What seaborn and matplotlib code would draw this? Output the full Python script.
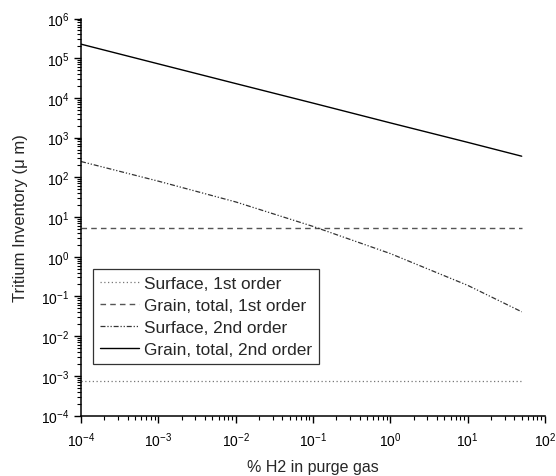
import numpy as np
import pandas as pd
import matplotlib
matplotlib.use("Agg")
import matplotlib.pyplot as plt
import seaborn as sns
from matplotlib.ticker import LogLocator, NullFormatter

# % H2 in purge gas
h2_pct = [1e-4, 1e-3, 1e-2, 1e-1, 1.0, 10.0, 50.0]

# Tritium inventory for each model
surface_1st = [7.2e-4, 7.2e-4, 7.2e-4, 7.2e-4, 7.2e-4, 7.2e-4, 7.2e-4]
grain_1st = [5.3, 5.3, 5.3, 5.3, 5.3, 5.3, 5.3]
surface_2nd = [250.0, 80.0, 24.0, 5.8, 1.2, 0.19, 0.041]
grain_2nd = [2.26e5, 7.2e4, 2.3e4, 7.4e3, 2.35e3, 7.6e2, 3.4e2]

series_labels = [
    "Surface, 1st order",
    "Grain, total, 1st order",
    "Surface, 2nd order",
    "Grain, total, 2nd order",
]
series_values = [surface_1st, grain_1st, surface_2nd, grain_2nd]

sns.set_theme(style="ticks")
plt.rcParams["font.family"] = ["Liberation Sans", "DejaVu Sans"]
plt.rcParams["mathtext.default"] = "regular"
plt.rcParams["axes.unicode_minus"] = False

frames = []
for label, vals in zip(series_labels, series_values):
    frames.append(pd.DataFrame({"h2": h2_pct, "inv": vals, "series": label}))
df = pd.concat(frames, ignore_index=True)

fig = plt.figure(figsize=(5.56, 4.77), dpi=100)
ax = fig.add_axes([0.1457, 0.1268, 0.8345, 0.8323])

styles = {
    "Surface, 1st order": dict(color="#777777", linestyle=(0, (1, 2)), linewidth=0.9),
    "Grain, total, 1st order": dict(color="#555555", linestyle=(0, (4, 3)), linewidth=1.0),
    "Surface, 2nd order": dict(color="#333333", linestyle=(0, (4, 1.5, 1, 1.5, 1, 1.5)), linewidth=0.9),
    "Grain, total, 2nd order": dict(color="black", linestyle="-", linewidth=1.0),
}

for label in series_labels:
    sub = df[df["series"] == label]
    sns.lineplot(data=sub, x="h2", y="inv", ax=ax, label=label,
                 estimator=None, sort=True, **styles[label])

ax.set_xscale("log")
ax.set_yscale("log")
ax.set_xlim(1e-4, 1e2)
ax.set_ylim(1e-4, 1e6)

ax.xaxis.set_major_locator(LogLocator(base=10, numticks=20))
ax.yaxis.set_major_locator(LogLocator(base=10, numticks=20))
ax.xaxis.set_minor_locator(LogLocator(base=10, subs=np.arange(2, 10), numticks=100))
ax.yaxis.set_minor_locator(LogLocator(base=10, subs=np.arange(2, 10), numticks=100))
ax.xaxis.set_minor_formatter(NullFormatter())
ax.yaxis.set_minor_formatter(NullFormatter())

ax.tick_params(which="major", direction="out", length=5, width=1, labelsize=10,
               color="black", labelcolor="black")
ax.tick_params(which="minor", direction="out", length=3, width=0.8, color="black")
ax.tick_params(axis="x", which="major", pad=6)

for side in ["top", "right"]:
    ax.spines[side].set_visible(False)
for side in ["left", "bottom"]:
    ax.spines[side].set_color("black")
    ax.spines[side].set_linewidth(1.1)

ax.set_xlabel("% H2 in purge gas", fontsize=11.5, labelpad=7)
ax.set_ylabel("Tritium Inventory (\u03bc m)", fontsize=12, labelpad=9)

leg = ax.legend(loc="lower left", bbox_to_anchor=(0.026, 0.130), frameon=True,
                fancybox=False, edgecolor="black", fontsize=12.4,
                handlelength=2.25, handletextpad=0.3, borderpad=0.4,
                labelspacing=0.4, borderaxespad=0)
leg.get_frame().set_linewidth(0.9)

fig.savefig("out.png", dpi=100, facecolor="white")
